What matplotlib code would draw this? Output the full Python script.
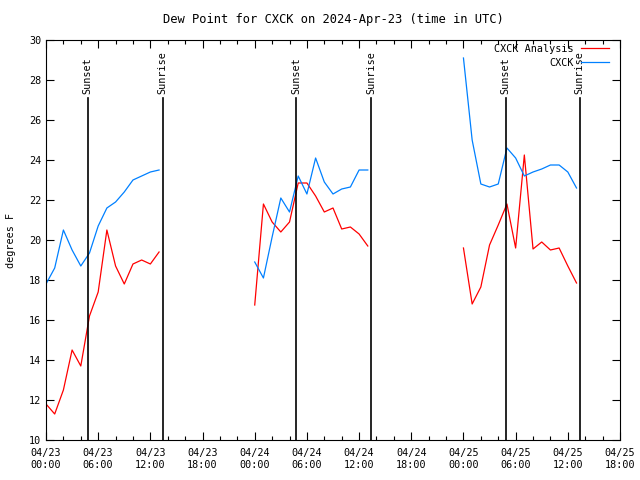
import matplotlib
matplotlib.use('Agg')
import matplotlib.pyplot as plt
from matplotlib.ticker import MultipleLocator

plt.rcParams['font.family'] = ['DejaVu Sans Mono']
plt.rcParams['font.size'] = 7.3

# hours since 2024-04-23 00:00 UTC
hours_1 = list(range(0, 14))
hours_2 = list(range(24, 38))
hours_3 = list(range(48, 62))

analysis_1 = [11.8, 11.3, 12.5, 14.5, 13.7, 16.2, 17.4, 20.5, 18.7, 17.8, 18.8, 19.0, 18.8, 19.4]
analysis_2 = [16.75, 21.8, 20.9, 20.4, 20.9, 22.85, 22.85, 22.2, 21.4, 21.6, 20.55, 20.65, 20.3, 19.7]
analysis_3 = [19.6, 16.8, 17.65, 19.75, 20.75, 21.8, 19.6, 24.25, 19.55, 19.9, 19.5, 19.6, 18.7, 17.85]

obs_1 = [17.8, 18.6, 20.5, 19.5, 18.7, 19.35, 20.7, 21.6, 21.9, 22.4, 23.0, 23.2, 23.4, 23.5]
obs_2 = [18.9, 18.1, 20.15, 22.1, 21.4, 23.2, 22.3, 24.1, 22.9, 22.3, 22.55, 22.65, 23.5, 23.5]
obs_3 = [29.1, 25.0, 22.8, 22.65, 22.8, 24.6, 24.1, 23.2, 23.4, 23.55, 23.75, 23.75, 23.4, 22.6]

sunset = [4.8, 28.8, 52.85]
sunrise = [13.4, 37.4, 61.35]

xtick_labels = ['04/23\n00:00', '04/23\n06:00', '04/23\n12:00', '04/23\n18:00',
                '04/24\n00:00', '04/24\n06:00', '04/24\n12:00', '04/24\n18:00',
                '04/25\n00:00', '04/25\n06:00', '04/25\n12:00', '04/25\n18:00']

fig = plt.figure(figsize=(6.4, 4.8), dpi=100)
ax = fig.add_axes([46 / 640, 40 / 480, 574 / 640, 400 / 480])

red = '#ff0000'
blue = '#0080ff'

ax.plot(hours_1, analysis_1, color=red, lw=0.9, label='CXCK Analysis')
ax.plot(hours_2, analysis_2, color=red, lw=0.9)
ax.plot(hours_3, analysis_3, color=red, lw=0.9)
ax.plot(hours_1, obs_1, color=blue, lw=0.9, label='CXCK')
ax.plot(hours_2, obs_2, color=blue, lw=0.9)
ax.plot(hours_3, obs_3, color=blue, lw=0.9)

# lineas de salida y puesta del sol
for h in sunset:
    ax.plot([h, h], [10, 27.1], color='black', lw=1.2)
    ax.text(h, 27.28, 'Sunset', rotation=90, ha='center', va='bottom')
for h in sunrise:
    ax.plot([h, h], [10, 27.1], color='black', lw=1.2)
    ax.text(h, 27.28, 'Sunrise', rotation=90, ha='center', va='bottom')

ax.set_xlim(0, 66)
ax.set_ylim(10, 30)
ax.set_xticks(range(0, 67, 6))
ax.set_xticklabels(xtick_labels)
ax.xaxis.set_minor_locator(MultipleLocator(2))
ax.set_yticks(range(10, 31, 2))
ax.tick_params(which='both', direction='in', top=True, right=True, width=0.8)
ax.tick_params(which='major', length=6)
ax.tick_params(which='minor', length=3)
ax.tick_params(axis='x', pad=6)

for s in ax.spines.values():
    s.set_linewidth(0.8)

ax.set_title('Dew Point for CXCK on 2024-Apr-23 (time in UTC)', pad=12)
ax.set_ylabel('degrees F', labelpad=9)

leg = ax.legend(loc='upper right', bbox_to_anchor=(1 - 11 / 574, 1 - 4 / 400),
                frameon=False, markerfirst=False, borderpad=0, borderaxespad=0,
                handlelength=2.8, handletextpad=0.65, labelspacing=0.35)
# texto de la leyenda alineado a la derecha, como en gnuplot
for col in leg._legend_handle_box.get_children():
    col.align = 'right'

plt.savefig('out.png', dpi=100)
